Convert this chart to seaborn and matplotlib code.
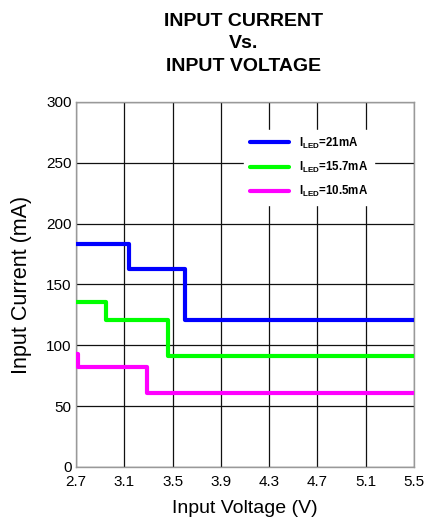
import matplotlib
matplotlib.use("Agg")
import matplotlib.pyplot as plt
import seaborn as sns
import pandas as pd

sns.set_theme(style="white")
plt.rcParams["font.family"] = ["Liberation Sans", "DejaVu Sans"]
plt.rcParams["mathtext.fontset"] = "custom"
plt.rcParams["mathtext.bf"] = "Liberation Sans:bold"
plt.rcParams["mathtext.rm"] = "Liberation Sans"
plt.rcParams["text.color"] = "black"
plt.rcParams["axes.labelcolor"] = "black"

# Step breakpoints (V) and input current (mA) for each LED current setting
v_21 = [2.7, 3.14, 3.60, 5.5]
i_21 = [183, 163, 121, 121]
v_157 = [2.7, 2.95, 3.465, 5.5]
i_157 = [136, 121, 91, 91]
v_105 = [2.7, 2.715, 3.29, 5.5]
i_105 = [93, 82, 61, 61]

labels = [r"I$_{\mathbf{LED}}$=21mA", r"I$_{\mathbf{LED}}$=15.7mA", r"I$_{\mathbf{LED}}$=10.5mA"]
colors = ["#0000FF", "#00FF00", "#FF00FF"]
x_ticks = [2.7, 3.1, 3.5, 3.9, 4.3, 4.7, 5.1, 5.5]
y_ticks = [0, 50, 100, 150, 200, 250, 300]

frames = []
for v, i, lab in [(v_21, i_21, labels[0]), (v_157, i_157, labels[1]), (v_105, i_105, labels[2])]:
    frames.append(pd.DataFrame({"Voltage": v, "Current": i, "series": lab}))
df = pd.concat(frames, ignore_index=True)

fig = plt.figure(figsize=(4.25, 5.24), dpi=100)
ax = fig.add_axes([76 / 425, 57 / 524, 338 / 425, 365 / 524])

sns.lineplot(data=df, x="Voltage", y="Current", hue="series", hue_order=labels,
             palette=colors, drawstyle="steps-post", linewidth=3.0, ax=ax,
             sort=False, estimator=None, zorder=3)

ax.set_xlim(2.7, 5.5)
ax.set_ylim(0, 300)
ax.set_xticks(x_ticks)
ax.set_xticklabels([f"{t:.1f}" for t in x_ticks])
ax.set_yticks(y_ticks)
ax.tick_params(axis="both", length=0, labelsize=11, colors="black")
ax.tick_params(axis="x", pad=6)
ax.tick_params(axis="y", pad=3)
ax.grid(True, color="#111111", linewidth=0.9)
ax.set_axisbelow(True)
for s in ax.spines.values():
    s.set_color("#999999")
    s.set_linewidth(1.0)

ax.set_xlabel("Input Voltage (V)", fontsize=14, labelpad=8)
ax.set_ylabel("Input Current (mA)", fontsize=15.5, labelpad=10)

leg = ax.legend(loc="upper left", bbox_to_anchor=(0.48, 0.94), frameon=True,
                fancybox=False, edgecolor="white", framealpha=1.0,
                prop={"weight": "bold", "size": 8.3}, handlelength=3.4,
                handletextpad=0.9, labelspacing=0.8, borderpad=0.5)
for line in leg.get_lines():
    line.set_linewidth(3.0)

fig.text(0.572, 0.976, "INPUT CURRENT\nVs.\nINPUT VOLTAGE", ha="center", va="top",
         fontsize=14, fontweight="bold", linespacing=1.45)

fig.savefig("out.png", dpi=100, facecolor="white")
